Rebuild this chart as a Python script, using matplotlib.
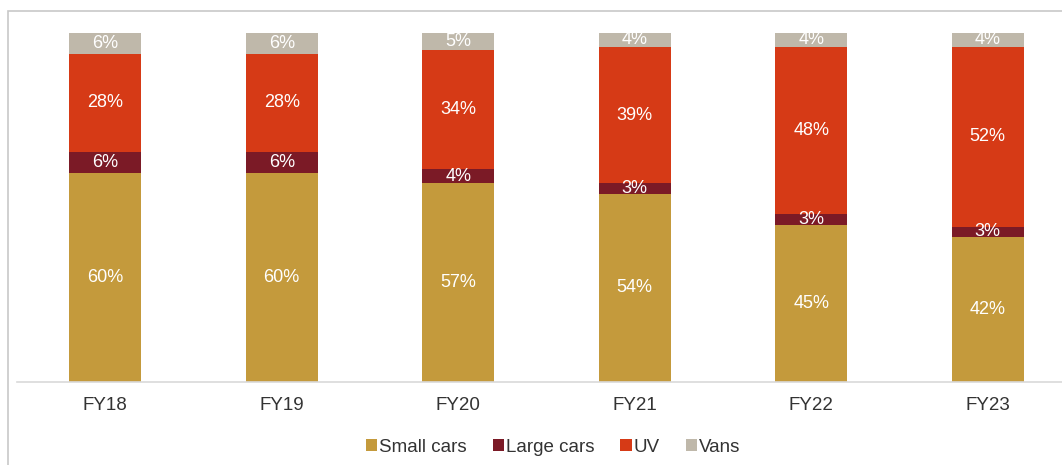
import matplotlib
matplotlib.use("Agg")
import matplotlib.pyplot as plt
from matplotlib.patches import Rectangle
import numpy as np

plt.rcParams['font.family'] = ['Liberation Sans', 'DejaVu Sans']

years = ["FY18", "FY19", "FY20", "FY21", "FY22", "FY23"]
small_cars = [60, 60, 57, 54, 45, 42]
large_cars = [6, 6, 4, 3, 3, 3]
uv = [28, 28, 34, 39, 48, 52]
vans = [6, 6, 5, 4, 4, 4]

series = [("Small cars", small_cars, "#C49A3C"),
          ("Large cars", large_cars, "#7B1A26"),
          ("UV", uv, "#D63A16"),
          ("Vans", vans, "#BFB8AA")]

W, H = 1062, 465
fig = plt.figure(figsize=(W / 100, H / 100), dpi=100)
# frame
fig.patches.append(Rectangle((8 / W, -0.05), 1.2, (H - 11) / H + 0.05,
                             transform=fig.transFigure, fill=False,
                             edgecolor="#C8C8C8", linewidth=1.2))

x0, x1 = 17, 1076
ax = fig.add_axes([x0 / W, (H - 382) / H, (x1 - x0) / W, (382 - 33) / H])
x = np.arange(len(years))
totals = np.sum([np.array(s[1], dtype=float) for s in series], axis=0)
bottom = np.zeros(len(years))
handles = []
for name, vals, col in series:
    raw = np.array(vals, dtype=float)
    h = raw / totals * 100.0  # 100% stacked
    b = ax.bar(x, h, 0.41, bottom=bottom, color=col, label=name)
    handles.append(b)
    for xi, v, hv, bt in zip(x, raw, h, bottom):
        ax.text(xi, bt + hv / 2, f"{int(v)}%", ha="center", va="center",
                color="white", fontsize=13)
    bottom += h

ax.set_xlim(-0.5, len(years) - 0.5)
ax.set_ylim(0, 100)
ax.set_yticks([])
ax.set_xticks(x)
ax.set_xticklabels(years, fontsize=13.5, color="#333333")
ax.tick_params(axis="x", length=0, pad=11)
for s in ["top", "right", "left"]:
    ax.spines[s].set_visible(False)
ax.spines["bottom"].set_color("#D9D9D9")
ax.spines["bottom"].set_linewidth(1.2)

fig.legend(handles=handles, labels=[s[0] for s in series], loc="center",
           bbox_to_anchor=(553 / W, 1 - 447 / H), ncol=4, frameon=False,
           handlelength=0.6, handleheight=0.6, handletextpad=0.1,
           columnspacing=1.4, fontsize=13.5, labelcolor="#333333")

fig.savefig("out.png", dpi=100)
